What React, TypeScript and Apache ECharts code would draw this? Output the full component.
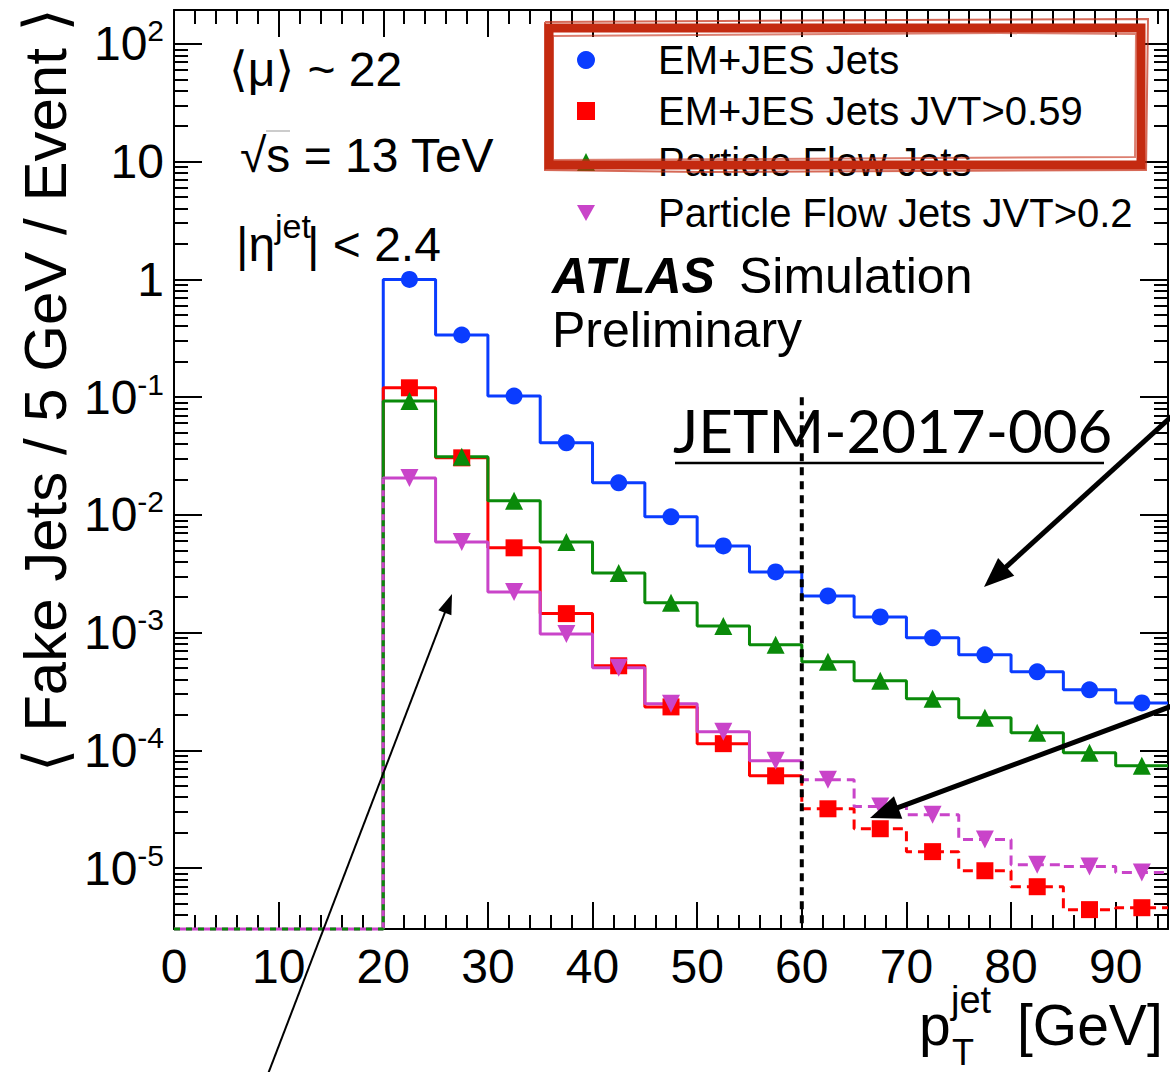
import React, { useEffect, useRef } from "react";
import * as echarts from "echarts";

// ---------- data ----------
const binEdges = [20, 25, 30, 35, 40, 45, 50, 55, 60, 65, 70, 75, 80, 85, 90, 95];
const emJes = [1.0, 0.337, 0.102, 0.0409, 0.0187, 0.00962, 0.00545, 0.00328, 0.00205, 0.00136, 0.000903, 0.000648, 0.000465, 0.000327, 0.000253];
const emJesJvt = [0.12, 0.0305, 0.00525, 0.00145, 0.000523, 0.000234, 0.000114, 0.0000608, 0.0000319, 0.0000216, 0.0000138, 0.0000095, 0.00000695, 0.00000444, 0.00000461];
const pflow = [0.0929, 0.0311, 0.0132, 0.00589, 0.00321, 0.00179, 0.00114, 0.000787, 0.000565, 0.00039, 0.000274, 0.000189, 0.000141, 0.0000955, 0.0000741];
const pflowJvt = [0.0206, 0.00589, 0.00221, 0.000975, 0.000502, 0.000249, 0.000144, 0.0000817, 0.0000564, 0.0000333, 0.0000284, 0.0000175, 0.0000107, 0.0000103, 0.00000916];
const seriesNames = ["EM+JES Jets", "EM+JES Jets JVT>0.59", "Particle Flow Jets", "Particle Flow Jets JVT>0.2"];
const xMajorTicks = [0, 10, 20, 30, 40, 50, 60, 70, 80, 90];
const xMinorTicks = [2, 4, 6, 8, 12, 14, 16, 18, 22, 24, 26, 28, 32, 34, 36, 38, 42, 44, 46, 48, 52, 54, 56, 58, 62, 64, 66, 68, 72, 74, 76, 78, 82, 84, 86, 88, 92, 94];
const yDecades = [-5, -4, -3, -2, -1, 0, 1, 2];
const X_MIN = 0;
const X_MAX = 95;
const Y_MIN = 3.04e-6;
const Y_MAX = 194;
const emptyRange = [0, 20];
const dashFromEdge = 60;
const cutLineX = 60;
const cutLineTop = 0.1;

const lg = (v: number) => Math.log10(v);
const FONT = "Liberation Sans, Arial, Helvetica, DejaVu Sans, sans-serif";

const BLUE = "#0a3cff";
const RED = "#ff0000";
const GREEN = "#0a8a0a";
const MAGENTA = "#c944c9";

function stepPoints(vals: number[], i0: number, i1: number, fromBottom: boolean) {
  const pts: number[][] = [];
  if (fromBottom) pts.push([binEdges[i0], lg(Y_MIN)]);
  else if (i0 > 0) pts.push([binEdges[i0], lg(vals[i0 - 1])]);
  for (let i = i0; i < i1; i++) {
    pts.push([binEdges[i], lg(vals[i])]);
    pts.push([binEdges[i + 1], lg(vals[i])]);
  }
  return pts;
}

function centers(vals: number[]) {
  return vals.map((v, i) => [(binEdges[i] + binEdges[i + 1]) / 2, lg(v)]);
}

function yMinorTicks() {
  const out: number[] = [];
  for (let d = -6; d <= 2; d++) {
    for (let k = 2; k <= 9; k++) {
      const v = d + Math.log10(k);
      if (v > lg(Y_MIN) && v < lg(Y_MAX)) out.push(v);
    }
  }
  return out;
}

function arrow(x1: number, y1: number, x2: number, y2: number, w: number, headLen: number, headW: number) {
  const dx = x2 - x1, dy = y2 - y1;
  const L = Math.hypot(dx, dy);
  const ux = dx / L, uy = dy / L;
  const bx = x2 - ux * headLen, by = y2 - uy * headLen;
  return [
    { type: "line", z: 50, shape: { x1, y1, x2: bx + ux * 3, y2: by + uy * 3 }, style: { stroke: "#000", lineWidth: w } },
    {
      type: "polygon",
      z: 50,
      shape: { points: [[x2, y2], [bx - uy * headW, by + ux * headW], [bx + uy * headW, by - ux * headW]] },
      style: { fill: "#000" },
    },
  ];
}

function txt(x: number, y: number, text: string, size: number, extra: any = {}) {
  return {
    type: "text",
    x,
    y,
    z: 40,
    style: { text, fontSize: size, fontFamily: FONT, fill: "#000", align: "left", verticalAlign: "middle", ...extra },
  };
}

export default function App() {
  const ref = useRef<HTMLDivElement>(null);

  useEffect(() => {
    if (!ref.current) return;
    const chart = echarts.init(ref.current, null, { renderer: "svg" });
    const yMin = lg(Y_MIN), yMax = lg(Y_MAX);
    const dashIdx = binEdges.indexOf(dashFromEdge);
    const n = emJes.length;

    const tickStyle = { color: "#000", width: 2 };
    const hiddenLine = { show: false, onZero: false };
    const shownLine = { show: true, onZero: false, lineStyle: { color: "#000", width: 2 } };
    const baseX = { type: "value", min: X_MIN, max: X_MAX, splitLine: { show: false }, axisLine: hiddenLine, axisLabel: { show: false } };
    const baseY = { type: "value", min: yMin, max: yMax, splitLine: { show: false }, axisLine: hiddenLine, axisLabel: { show: false } };

    const lineS = (data: number[][], color: string, dashed: boolean, extra: any = {}) => ({
      type: "line",
      data,
      symbol: "none",
      silent: true,
      lineStyle: { color, width: 3, type: dashed ? [10, 6] : "solid" },
      z: 2,
      ...extra,
    });

    const scat = (name: string, vals: number[], symbol: string, size: number, color: string, rotate = 0) => ({
      type: "scatter",
      name,
      data: centers(vals),
      symbol,
      symbolSize: size,
      symbolRotate: rotate,
      itemStyle: { color, opacity: 1 },
      silent: true,
      z: 6,
    });

    const option: any = {
      animation: false,
      backgroundColor: "#fff",
      grid: { left: 174, right: 2, top: 10, bottom: 143, containLabel: false },
      xAxis: [
        {
          ...baseX,
          position: "bottom",
          axisLine: shownLine,
          axisTick: { show: true, inside: true, length: 27, customValues: xMajorTicks, lineStyle: tickStyle },
          axisLabel: { show: true, customValues: xMajorTicks, fontSize: 48, fontFamily: FONT, color: "#000", margin: 13 },
        },
        { ...baseX, position: "bottom", axisTick: { show: true, inside: true, length: 14, customValues: xMinorTicks, lineStyle: tickStyle } },
        {
          ...baseX,
          position: "top",
          axisLine: shownLine,
          axisTick: { show: true, inside: true, length: 27, customValues: xMajorTicks, lineStyle: tickStyle },
        },
        { ...baseX, position: "top", axisTick: { show: true, inside: true, length: 14, customValues: xMinorTicks, lineStyle: tickStyle } },
      ],
      yAxis: [
        {
          ...baseY,
          position: "left",
          axisLine: shownLine,
          axisTick: { show: true, inside: true, length: 28, customValues: yDecades, lineStyle: tickStyle },
          axisLabel: {
            show: true,
            customValues: yDecades,
            margin: 10,
            formatter: (v: number) => {
              const d = Math.round(v);
              if (d === 0) return "{m|1}";
              if (d === 1) return "{m|10}";
              return "{m|10}{e|" + d + "}";
            },
            rich: {
              m: { fontSize: 48, lineHeight: 56, fontFamily: FONT, color: "#000" },
              e: { fontSize: 30, lineHeight: 30, verticalAlign: "top", fontFamily: FONT, color: "#000" },
            },
          },
        },
        { ...baseY, position: "left", axisTick: { show: true, inside: true, length: 14, customValues: yMinorTicks(), lineStyle: tickStyle } },
        {
          ...baseY,
          position: "right",
          axisLine: shownLine,
          axisTick: { show: true, inside: true, length: 28, customValues: yDecades, lineStyle: tickStyle },
        },
        { ...baseY, position: "right", axisTick: { show: true, inside: true, length: 14, customValues: yMinorTicks(), lineStyle: tickStyle } },
      ],
      legend: {
        orient: "vertical",
        left: 577,
        top: 40,
        padding: 0,
        itemWidth: 18,
        itemHeight: 18,
        itemGap: 11,
        selectedMode: false,
        data: [
          { name: seriesNames[0], icon: "circle" },
          { name: seriesNames[1], icon: "rect" },
          { name: seriesNames[2], icon: "triangle" },
          { name: seriesNames[3], icon: "path://M0,0L10,0L5,9Z" },
        ],
        formatter: (name: string) => "{g|}{t|" + name + "}",
        textStyle: {
          color: "#000",
          fontSize: 40,
          fontFamily: FONT,
          rich: {
            g: { width: 58 },
            t: { fontSize: 40, lineHeight: 40, fontFamily: FONT, color: "#000" },
          },
        },
      },
      series: [
        lineS(stepPoints(emJes, 0, n, true), BLUE, false),
        lineS(stepPoints(emJesJvt, 0, dashIdx, true), RED, false),
        lineS(stepPoints(emJesJvt, dashIdx, n, false), RED, true),
        lineS(stepPoints(pflow, 0, n, true), GREEN, false),
        lineS(stepPoints(pflowJvt, 0, dashIdx, true), MAGENTA, false),
        lineS(stepPoints(pflowJvt, dashIdx, n, false), MAGENTA, true),
        lineS([[emptyRange[0], yMin], [emptyRange[1], yMin]], MAGENTA, false, { clip: false, z: 3 }),
        lineS([[emptyRange[0], yMin], [emptyRange[1], yMin], [emptyRange[1], lg(pflowJvt[0])]], GREEN, false, {
          clip: false,
          z: 3,
          lineStyle: { color: GREEN, width: 3, type: [6, 6] },
        }),
        {
          type: "line",
          data: [[cutLineX, lg(cutLineTop)], [cutLineX, yMin]],
          symbol: "none",
          silent: true,
          z: 5,
          lineStyle: { color: "#000", width: 4, type: [8, 6] },
        },
        scat(seriesNames[0], emJes, "circle", 17, BLUE),
        scat(seriesNames[1], emJesJvt, "rect", 17, RED),
        scat(seriesNames[2], pflow, "triangle", 18, GREEN),
        scat(seriesNames[3], pflowJvt, "triangle", 18, MAGENTA, 180),
      ],
      graphic: [
        // axis titles
        {
          type: "text",
          x: 45,
          y: 390,
          rotation: Math.PI / 2,
          z: 40,
          style: { text: "⟨ Fake Jets / 5 GeV / Event ⟩", fontSize: 60, fontFamily: FONT, fill: "#000", align: "center", verticalAlign: "middle" },
        },
        txt(919, 1025, "p", 57),
        txt(951, 1000, "jet", 38),
        txt(952, 1052, "T", 36),
        txt(1017, 1025, "[GeV]", 57),
        // labels
        txt(229, 69, "⟨μ⟩ ~ 22", 48),
        txt(240, 155, "√s = 13 TeV", 48),
        { type: "line", z: 40, shape: { x1: 266, y1: 131, x2: 290, y2: 131 }, style: { stroke: "#999", lineWidth: 1 } },
        txt(236, 244, "|η", 48),
        txt(275, 226, "jet", 34),
        txt(307, 244, "| < 2.4", 48),
        txt(552, 276, "ATLAS", 50, { fontWeight: "bold", fontStyle: "italic" }),
        txt(739, 276, "Simulation", 50),
        txt(552, 330, "Preliminary", 50),
        // annotation text
        {
          type: "text",
          x: 673,
          y: 430,
          z: 1,
          style: { text: "JETM-2017-006", fontSize: 60, fontFamily: "Lato, Carlito, sans-serif", fill: "#000", align: "left", verticalAlign: "middle" },
        },
        { type: "line", z: 1, shape: { x1: 675, y1: 463, x2: 1104, y2: 463 }, style: { stroke: "#000", lineWidth: 2.5 } },
        // red sketch box
        { type: "rect", z: 60, shape: { x: 549, y: 28, width: 592, height: 137 }, style: { fill: "none", stroke: "#c42a10", lineWidth: 9 } },
        { type: "polyline", z: 60, shape: { points: [[545, 22], [900, 20], [1148, 19], [1146, 170], [700, 172], [545, 170], [545, 22]] }, style: { fill: "none", stroke: "#c42a10", lineWidth: 2, opacity: 0.7 } },
        { type: "polyline", z: 60, shape: { points: [[553, 36], [1000, 33], [1136, 34], [1135, 157], [553, 160], [553, 36]] }, style: { fill: "none", stroke: "#c42a10", lineWidth: 2, opacity: 0.6 } },
        // arrows
        ...arrow(1172, 416, 984, 587, 5, 30, 12),
        ...arrow(1172, 706, 870, 818, 5, 30, 12),
        ...arrow(268, 1074, 452, 594, 2, 20, 7),
      ],
    };

    chart.setOption(option);
    return () => chart.dispose();
  }, []);

  return (
    <div
      ref={ref}
      style={{ position: "fixed", left: 0, top: 0, width: 1170, height: 1072, background: "#fff" }}
    />
  );
}
